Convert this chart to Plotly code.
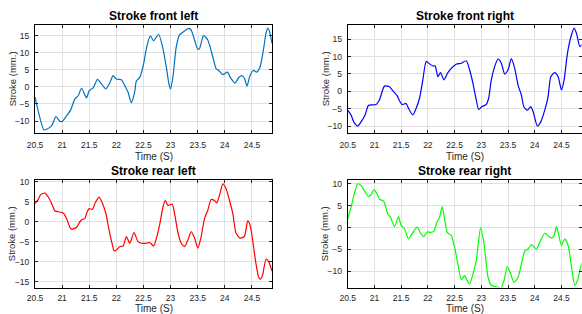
import plotly.graph_objects as go

# ---- data ----
fl_t = [20.50, 20.665, 20.714, 20.806, 20.886, 20.96, 21.002, 21.082, 21.156, 21.235, 21.297, 21.358,
        21.45, 21.499, 21.572, 21.652, 21.725, 21.805, 21.879, 21.94, 22.001, 22.093, 22.154, 22.216,
        22.277, 22.338, 22.369, 22.43, 22.504, 22.553, 22.626, 22.688, 22.779, 22.859, 22.92, 22.969,
        23.0, 23.043, 23.104, 23.165, 23.227, 23.337, 23.38, 23.441, 23.502, 23.533, 23.607, 23.686,
        23.778, 23.84, 23.901, 23.962, 24.048, 24.115, 24.189, 24.25, 24.311, 24.36, 24.409, 24.464,
        24.526, 24.587, 24.648, 24.71, 24.759, 24.789, 24.82, 24.869]
fl_v = [-3.0, -12.6, -12.4, -11.4, -8.7, -10.1, -10.1, -8.5, -6.8, -3.5, -2.6, -0.4,
        -3.2, -1.1, -0.3, 2.2, 0.9, -0.6, 1.2, 3.3, 2.3, 2.1, 0.4, -1.6,
        -4.7, -1.5, 1.7, 2.7, 6.8, 11.2, 14.9, 13.5, 15.4, 11.2, 5.8, 0.9,
        -0.6, 2.9, 11.7, 15.2, 16.0, 17.1, 16.6, 13.7, 11.0, 11.2, 15.0, 13.7,
        8.8, 5.3, 4.6, 3.6, 4.3, 2.4, 1.1, 2.6, 3.3, 2.6, 0.2, 3.3,
        4.8, 4.3, 5.8, 10.7, 15.7, 17.2, 16.4, 12.7]

fr_t = [20.50, 20.5625, 20.6125, 20.6875, 20.75, 20.825, 20.8875, 20.95, 21.03125, 21.09375, 21.1875,
        21.28125, 21.34375, 21.425, 21.46875, 21.51875, 21.59375, 21.6375, 21.71875, 21.78125,
        21.84375, 21.90625, 21.96875, 22.03125, 22.09375, 22.1375, 22.1875, 22.2375, 22.3,
        22.375, 22.4375, 22.53125, 22.625, 22.71875, 22.78125, 22.84375, 22.90625, 22.95,
        23.0125, 23.09375, 23.1375, 23.1875, 23.25, 23.3125, 23.375, 23.4375, 23.5, 23.5625,
        23.625, 23.6875, 23.75, 23.8, 23.8625, 23.925, 23.96875, 24.05, 24.1125, 24.1875,
        24.25, 24.3, 24.375, 24.4375, 24.5, 24.55, 24.6125, 24.6875, 24.7375, 24.78125,
        24.84375, 24.8875]
fr_v = [-5.4, -6.8, -8.8, -10.0, -8.8, -6.8, -4.1, -3.9, -3.8, -2.5, 1.5,
        1.3, 0.2, -1.25, -2.7, -3.8, -3.5, -4.9, -6.8, -4.9,
        -2.0, 3.3, 8.6, 7.9, 7.3, 7.3, 4.2, 5.4, 3.3,
        5.4, 6.6, 7.8, 8.1, 8.8, 6.2, 2.3, -2.5, -5.2,
        -4.4, -3.75, -2.0, 3.3, 7.1, 9.3, 8.1, 5.0, 6.2, 9.4,
        6.6, 1.8, -1.1, -4.6, -5.4, -4.4, -5.8, -10.0, -8.8, -5.4,
        -1.5, 4.2, 5.4, 4.2, 0.4, 3.3, 11.0, 16.3, 18.2, 16.7,
        12.9, 13.5]

rl_t = [20.50, 20.561, 20.604, 20.684, 20.745, 20.806, 20.868, 20.929, 21.021, 21.082, 21.143, 21.174,
        21.266, 21.327, 21.376, 21.419, 21.462, 21.499, 21.560, 21.603, 21.682, 21.744, 21.805, 21.866,
        21.927, 21.958, 22.001, 22.063, 22.124, 22.185, 22.246, 22.326, 22.399, 22.461, 22.553, 22.614,
        22.688, 22.737, 22.798, 22.859, 22.902, 22.951, 23.030, 23.073, 23.135, 23.196, 23.257, 23.318,
        23.380, 23.441, 23.502, 23.564, 23.625, 23.686, 23.748, 23.809, 23.852, 23.901, 23.962, 24.023,
        24.085, 24.146, 24.207, 24.281, 24.360, 24.421, 24.464, 24.513, 24.562, 24.623, 24.654, 24.697,
        24.759, 24.808, 24.869]
rl_v = [4.6, 5.6, 6.8, 7.2, 6.2, 4.6, 2.7, 2.5, 2.2, 0.8, -1.4, -1.9,
        -1.4, 0.0, 0.6, 0.8, 2.5, 3.3, 3.1, 4.6, 6.2, 4.6, 2.2, -2.1,
        -5.8, -7.3, -7.1, -6.2, -6.1, -3.7, -5.4, -2.7, -5.0, -5.4, -5.4, -5.2,
        -6.1, -4.2, -0.8, 3.7, 5.4, 4.1, 4.4, 2.1, -2.7, -5.4, -6.2, -4.6,
        -2.5, -4.1, -6.6, -3.7, 0.8, 2.9, 5.6, 5.3, 4.7, 6.6, 9.5, 8.3,
        5.4, 2.1, -2.9, -4.1, -3.7, 0.2, -0.8, -4.6, -9.5, -13.9, -14.4, -13.3,
        -9.4, -10.0, -12.4]

rr_t = [20.50, 20.5625, 20.625, 20.6875, 20.75, 20.8125, 20.8875, 20.9375, 20.9875, 21.05, 21.09375,
        21.175, 21.25, 21.3, 21.375, 21.45, 21.5, 21.5625, 21.6375, 21.7, 21.8, 21.875, 21.925,
        21.9875, 22.05, 22.1125, 22.16875, 22.21875, 22.26875, 22.3125, 22.3625, 22.4375, 22.5,
        22.5625, 22.625, 22.6875, 22.7375, 22.78125, 22.84375, 22.90625, 22.9875, 23.05, 23.125,
        23.1875, 23.2625, 23.3125, 23.3625, 23.425, 23.4875, 23.55, 23.6125, 23.6875, 23.75,
        23.8125, 23.875, 23.9375, 24.03125, 24.09375, 24.1875, 24.2625, 24.3125, 24.3625, 24.40625,
        24.4375, 24.5, 24.5625, 24.625, 24.6875, 24.75, 24.8, 24.84375, 24.8875]
rr_v = [2.0, 4.6, 7.8, 10.0, 9.6, 8.4, 7.1, 7.5, 8.6, 7.7, 6.5,
        6.0, 3.1, 2.4, 0.2, 2.5, 0.5, -0.3, -2.6, -1.5, 0.1, -1.5, -2.05,
        -1.0, -1.1, -0.8, 1.2, 2.3, 4.8, 2.0, -1.1, -1.8, -4.5,
        -8.3, -11.9, -11.0, -12.2, -12.9, -10.6, -7.5, 0.0, -3.6, -11.3,
        -13.2, -13.5, -13.6, -14.0, -12.1, -8.9, -10.6, -12.5, -11.4, -8.3,
        -5.4, -4.9, -3.9, -4.9, -3.4, -1.3, -2.0, -2.4, -1.8, 0.2,
        -1.1, -4.1, -2.6, -4.1, -9.0, -13.2, -12.1, -9.8, -7.9]

titles = ["Stroke front left", "Stroke front right", "Stroke rear left", "Stroke rear right"]
x_title = "Time (S)"
y_title = "Stroke (mm.)"
series = [(fl_t, fl_v), (fr_t, fr_v), (rl_t, rl_v), (rr_t, rr_v)]
colors = ["#0072BD", "#0000FF", "#FF0000", "#00FF00"]
y_ranges = [[-13.5, 18.1], [-12.0, 19.1], [-16.5, 10.4], [-13.7, 10.8]]
x_range = [20.5, 24.875]
x_ticks = [20.5, 21, 21.5, 22, 22.5, 23, 23.5, 24, 24.5]
x_ticktext = ["20.5", "21", "21.5", "22", "22.5", "23", "23.5", "24", "24.5"]

W, H = 582, 314
x_doms = [[35 / W, 272.3 / W], [347.7 / W, 581.5 / W]]
y_doms = [[1 - 133 / H, 1 - 25 / H], [1 - 287.5 / H, 1 - 180.3 / H]]
ytitle_x = [12.3 / W, 325.3 / W]
xtitle_y = [1 - 156 / H, 1 - 308.3 / H]
xlabel_standoff = [4, 2]

fig = go.Figure()
FONT = "Liberation Sans, Arial, Helvetica, sans-serif"
TXT = "#262626"

annotations = []
for i in range(4):
    r, c = divmod(i, 2)
    xa = "x" if i == 0 else f"x{i+1}"
    ya = "y" if i == 0 else f"y{i+1}"
    t, v = series[i]
    fig.add_trace(go.Scatter(x=t, y=v, mode="lines",
                             line=dict(color=colors[i], width=1.2, shape="spline", smoothing=0.6),
                             xaxis=xa, yaxis=ya, showlegend=False, hoverinfo="skip"))
    axis_common = dict(showline=True, linecolor="#000000", linewidth=1, mirror="ticks", ticks="inside",
                       ticklen=3, tickcolor="#262626", showgrid=True, gridcolor="#e0e0e0", gridwidth=1,
                       zeroline=False, automargin=False, tickfont=dict(family=FONT, size=8.5, color=TXT))
    xkey = "xaxis" if i == 0 else f"xaxis{i+1}"
    ykey = "yaxis" if i == 0 else f"yaxis{i+1}"
    fig.update_layout(**{
        xkey: dict(domain=x_doms[c], anchor=ya, range=x_range, tickvals=x_ticks, ticktext=x_ticktext,
                   ticklabelstandoff=xlabel_standoff[r], **axis_common),
        ykey: dict(domain=y_doms[r], anchor=xa, range=y_ranges[i], dtick=5, ticklabelstandoff=3,
                   **axis_common),
    })
    xd = x_doms[c]
    yd = y_doms[r]
    annotations.append(dict(text="<b>" + titles[i] + "</b>", x=(xd[0] + xd[1]) / 2, y=yd[1],
                            xref="paper", yref="paper", xanchor="center", yanchor="bottom", yshift=0,
                            showarrow=False, font=dict(family=FONT, size=12, color="#000000")))
    annotations.append(dict(text=x_title, x=(xd[0] + xd[1]) / 2, y=xtitle_y[r],
                            xref="paper", yref="paper", xanchor="center", yanchor="middle",
                            showarrow=False, font=dict(family=FONT, size=10, color=TXT)))
    annotations.append(dict(text=y_title, x=ytitle_x[c], y=(yd[0] + yd[1]) / 2, textangle=-90,
                            xref="paper", yref="paper", xanchor="center", yanchor="middle",
                            showarrow=False, font=dict(family=FONT, size=9.5, color=TXT)))

fig.update_layout(width=W, height=H, margin=dict(l=0, r=0, t=0, b=0), paper_bgcolor="white",
                  plot_bgcolor="white", annotations=annotations)

fig.write_html("out.html", config={"displayModeBar": False},
               post_script="document.body.style.margin='0';document.body.style.overflow='hidden';")
